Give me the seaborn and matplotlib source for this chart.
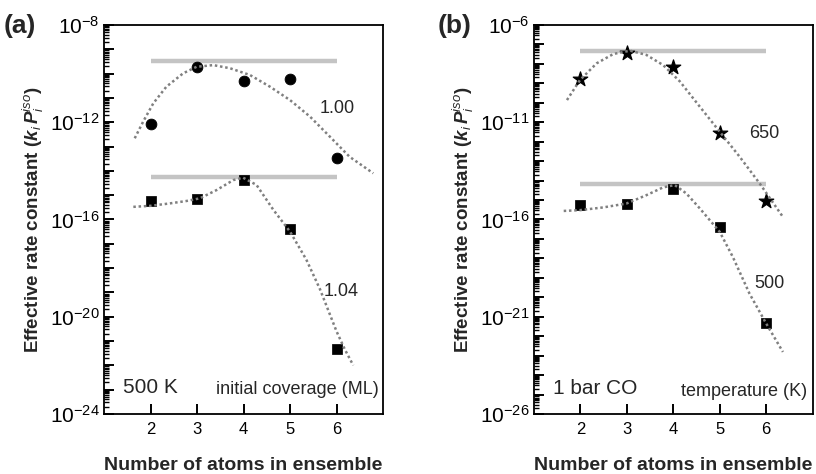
import numpy as np
import matplotlib
matplotlib.use("Agg")
import matplotlib.pyplot as plt
import matplotlib.ticker as mticker
import seaborn as sns

# x positions of the computed points
atoms = [2, 3, 4, 5, 6]

# panel (a): 500 K, two initial coverages (log10 of the rate constant)
cov100_log = [-12.09, -9.72, -10.32, -10.22, -13.47]
cov104_log = [-15.26, -15.17, -14.39, -16.41, -21.32]
cov100_level = -9.48
cov104_level = -14.24

# dotted guide curves, panel (a)
cov100_curve_x = [1.66, 1.84, 2.06, 2.34, 2.70, 2.99, 3.35, 3.71, 4.14, 4.57, 5.00, 5.43, 5.86, 6.28, 6.79]
cov100_curve_log = [-12.66, -11.98, -11.22, -10.54, -9.99, -9.72, -9.65, -9.78, -10.06, -10.54, -11.09, -11.77, -12.60, -13.42, -14.10]
cov104_curve_x = [1.63, 1.99, 2.41, 2.77, 3.06, 3.42, 3.78, 3.99, 4.28, 4.64, 5.00, 5.35, 5.64, 6.00, 6.18, 6.36]
cov104_curve_log = [-15.48, -15.44, -15.34, -15.24, -15.13, -14.79, -14.38, -14.28, -14.58, -15.60, -16.50, -17.65, -18.85, -20.60, -21.35, -22.00]

# panel (b): 1 bar CO, two temperatures
t650_log = [-8.80, -7.46, -8.15, -11.57, -15.06]
t500_log = [-15.26, -15.18, -14.41, -16.41, -21.32]
t650_level = -7.32
t500_level = -14.20

t650_curve_x = [1.71, 1.99, 2.35, 2.71, 3.07, 3.42, 3.78, 4.14, 4.57, 5.00, 5.43, 5.86, 6.36]
t650_curve_log = [-9.86, -8.83, -7.97, -7.49, -7.32, -7.54, -8.06, -8.90, -10.20, -11.49, -12.78, -14.15, -15.87]
t500_curve_x = [1.64, 1.99, 2.49, 2.99, 3.42, 3.78, 4.03, 4.28, 4.57, 5.00, 5.28, 5.64, 6.00, 6.36]
t500_curve_log = [-15.56, -15.52, -15.38, -15.18, -14.75, -14.35, -14.23, -14.66, -15.43, -16.64, -17.92, -19.81, -21.35, -22.81]

level_x = [2, 6]

sns.set_theme(style="ticks")
plt.rcParams["font.family"] = ["Liberation Sans", "DejaVu Sans"]
plt.rcParams["mathtext.fontset"] = "custom"
plt.rcParams["mathtext.rm"] = "Liberation Sans"
plt.rcParams["mathtext.it"] = "Liberation Sans:italic"
plt.rcParams["mathtext.bf"] = "Liberation Sans:bold"
plt.rcParams["mathtext.bfit"] = "Liberation Sans:bold:italic"

fig = plt.figure(figsize=(8.16, 4.74), dpi=100)
ax_a = fig.add_axes([0.1275, 0.1266, 0.3419, 0.8207])
ax_b = fig.add_axes([0.6544, 0.1266, 0.3415, 0.8207])

curve_kw = dict(color="#808080", linewidth=1.8, linestyle=(0, (1, 1.1)), zorder=4)
level_kw = dict(color="#c4c4c4", linewidth=3.2, zorder=1, solid_capstyle="butt")
ylab = r"Effective rate constant ($\mathbfit{k}_{\mathit{i}}\,\mathbfit{P}_{\mathit{i}}^{\mathit{iso}}$)"


def style_axis(ax, ylo, yhi, labeled):
    ax.set_yscale("log")
    ax.set_xlim(1, 7)
    ax.set_ylim(10.0 ** ylo, 10.0 ** yhi)
    ax.set_xticks(atoms)
    ax.yaxis.set_major_locator(mticker.LogLocator(base=10, numticks=40))
    ax.yaxis.set_minor_locator(mticker.LogLocator(base=10, subs=np.arange(2, 10), numticks=40))
    ax.yaxis.set_major_formatter(mticker.FuncFormatter(
        lambda v, p: rf"$10^{{{int(round(np.log10(v)))}}}$" if int(round(np.log10(v))) in labeled else ""))
    ax.yaxis.set_minor_formatter(mticker.NullFormatter())
    for s in ax.spines.values():
        s.set_color("black")
        s.set_linewidth(1.3)
    ax.set_xlabel("Number of atoms in ensemble", fontsize=14, fontweight="bold", labelpad=14)
    ax.set_ylabel(ylab, fontsize=13.5, fontweight="bold", labelpad=3)
    # ticks point into the frame, left and bottom only
    ax.tick_params(axis="both", which="major", direction="in", length=7, width=1.4, colors="black")
    ax.tick_params(axis="y", which="minor", direction="in", length=3.5, width=1.0, colors="black")
    ax.tick_params(axis="y", which="major", labelsize=15, pad=3)
    ax.tick_params(axis="x", which="major", labelsize=12, pad=6)


def pw(vals):
    return np.power(10.0, vals)


# ---- panel (a)
ax = ax_a
sns.lineplot(x=level_x, y=pw([cov100_level] * 2), ax=ax, **level_kw)
sns.lineplot(x=level_x, y=pw([cov104_level] * 2), ax=ax, **level_kw)
sns.scatterplot(x=atoms, y=pw(cov100_log), ax=ax, marker="o", s=60, color="black", edgecolor="black", zorder=3)
sns.scatterplot(x=atoms, y=pw(cov104_log), ax=ax, marker="s", s=42, color="black", edgecolor="black", zorder=3)
sns.lineplot(x=cov100_curve_x, y=pw(cov100_curve_log), ax=ax, sort=False, estimator=None, **curve_kw)
sns.lineplot(x=cov104_curve_x, y=pw(cov104_curve_log), ax=ax, sort=False, estimator=None, **curve_kw)
style_axis(ax, -24, -8, {-8, -12, -16, -20, -24})
ax.text(6.02, 10 ** -11.43, "1.00", fontsize=13, ha="center", va="center")
ax.text(6.10, 10 ** -18.95, "1.04", fontsize=13, ha="center", va="center")
ax.text(0.067, 0.067, "500 K", transform=ax.transAxes, fontsize=15, ha="left", va="center")
ax.text(0.986, 0.062, "initial coverage (ML)", transform=ax.transAxes, fontsize=13, ha="right", va="center")

# ---- panel (b)
ax = ax_b
sns.lineplot(x=level_x, y=pw([t650_level] * 2), ax=ax, **level_kw)
sns.lineplot(x=level_x, y=pw([t500_level] * 2), ax=ax, **level_kw)
sns.scatterplot(x=atoms, y=pw(t650_log), ax=ax, marker="*", s=120, color="black", edgecolor="black", zorder=3)
sns.scatterplot(x=atoms, y=pw(t500_log), ax=ax, marker="s", s=42, color="black", edgecolor="black", zorder=3)
sns.lineplot(x=t650_curve_x, y=pw(t650_curve_log), ax=ax, sort=False, estimator=None, **curve_kw)
sns.lineplot(x=t500_curve_x, y=pw(t500_curve_log), ax=ax, sort=False, estimator=None, **curve_kw)
style_axis(ax, -26, -6, {-6, -11, -16, -21, -26})
ax.text(5.96, 10 ** -11.57, "650", fontsize=13, ha="center", va="center")
ax.text(6.07, 10 ** -19.29, "500", fontsize=13, ha="center", va="center")
ax.text(0.067, 0.066, "1 bar CO", transform=ax.transAxes, fontsize=15, ha="left", va="center")
ax.text(0.981, 0.059, "temperature (K)", transform=ax.transAxes, fontsize=13, ha="right", va="center")

fig.text(0.004, 0.945, "(a)", fontsize=19, fontweight="bold", ha="left", va="center")
fig.text(0.536, 0.945, "(b)", fontsize=19, fontweight="bold", ha="left", va="center")

fig.savefig("out.png", dpi=100)
